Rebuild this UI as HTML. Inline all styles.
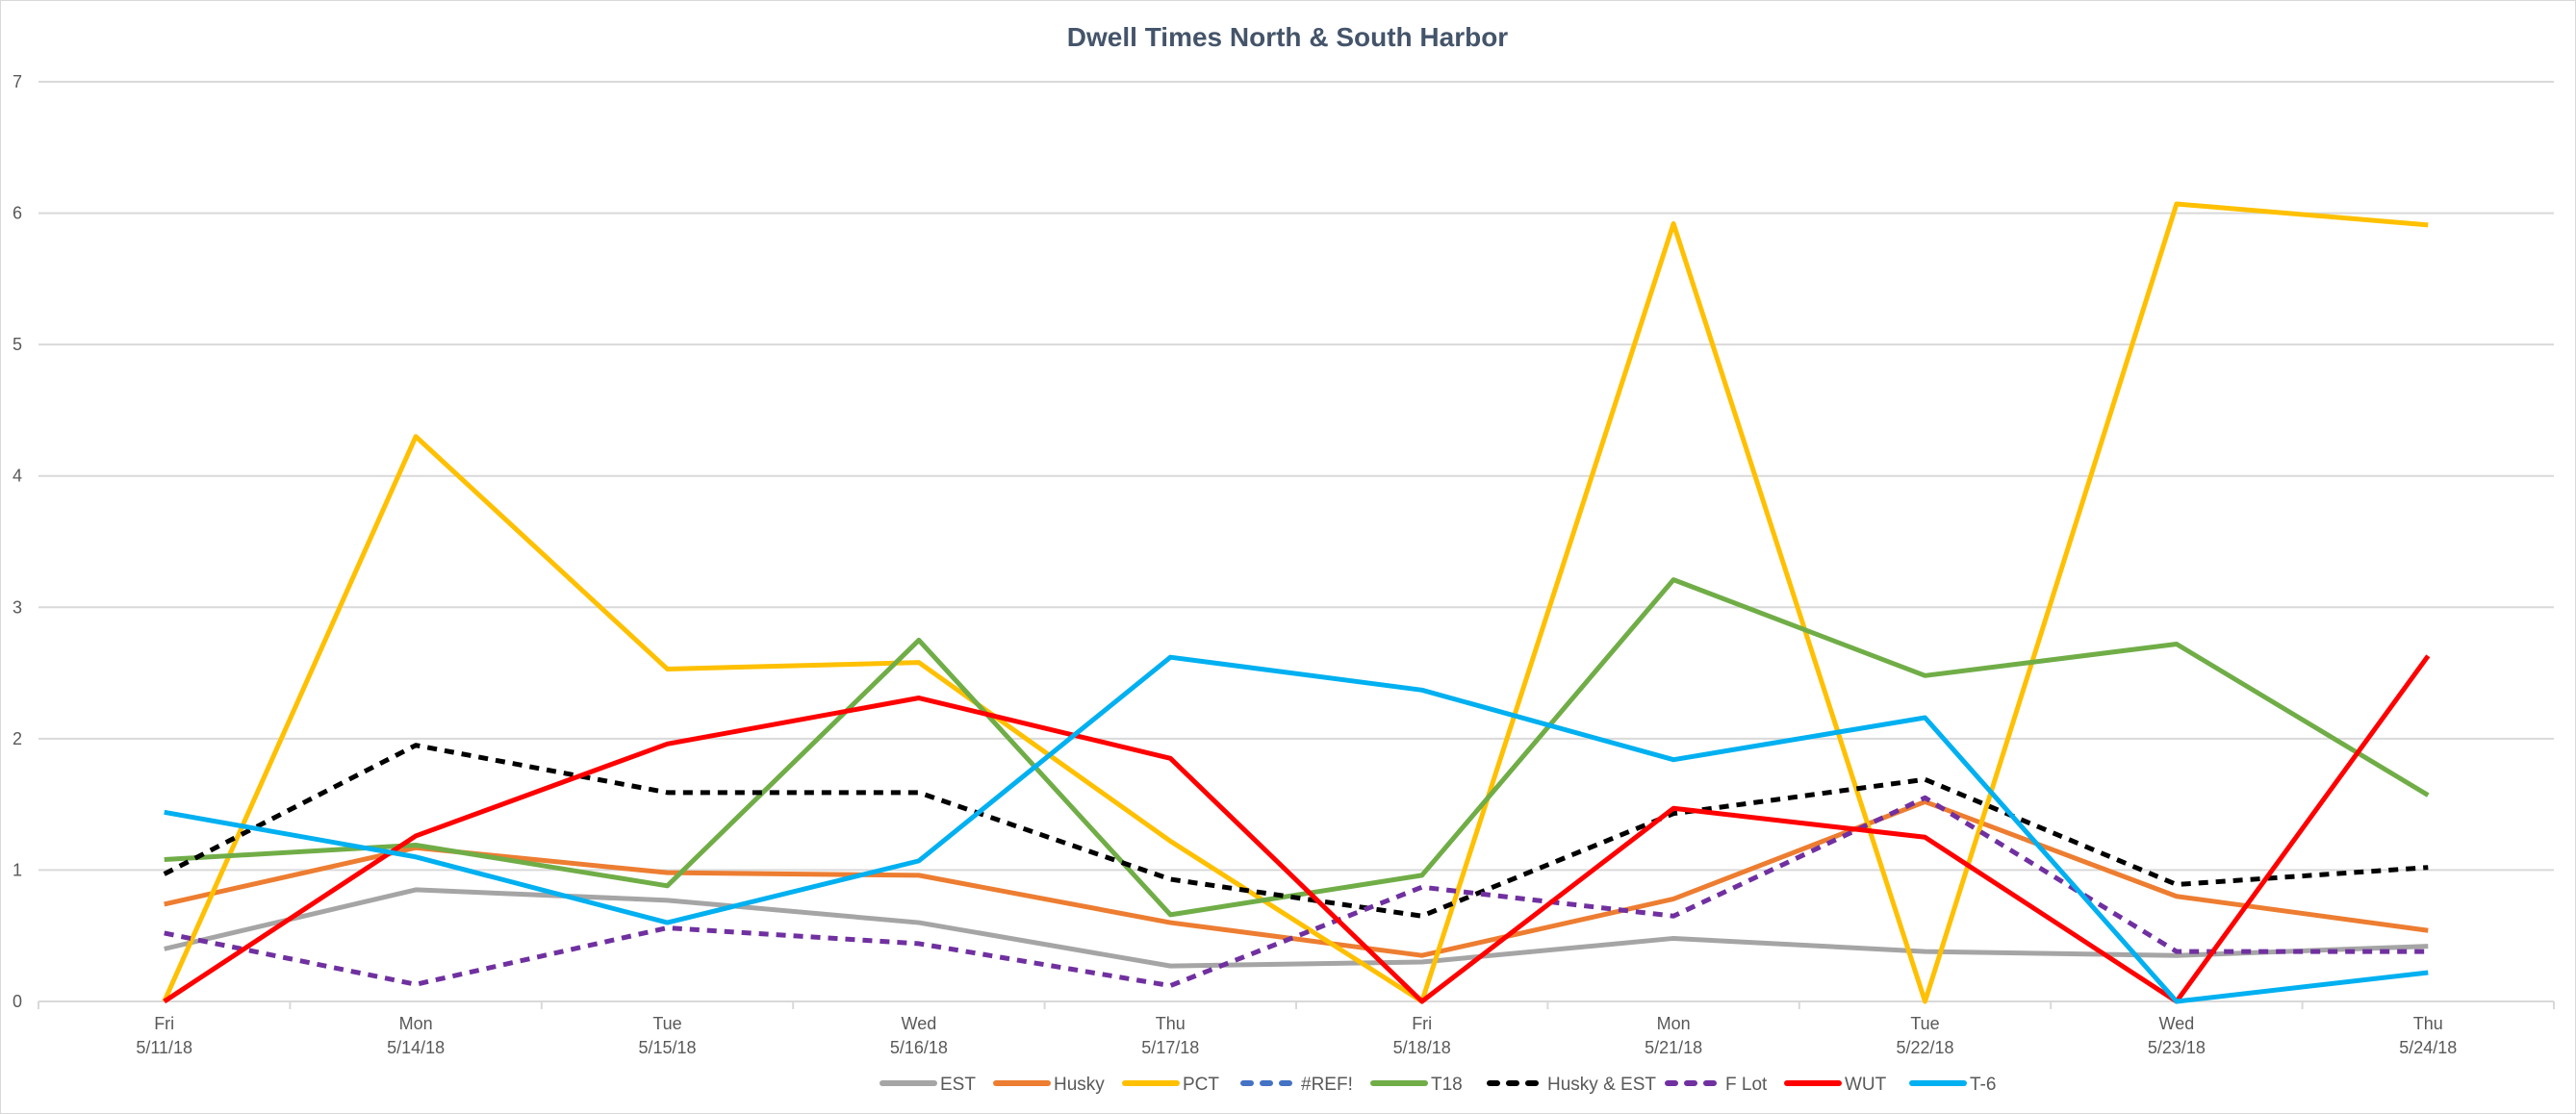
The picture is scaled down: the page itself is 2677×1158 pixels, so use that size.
<!DOCTYPE html>
<html><head><meta charset="utf-8"><style>
body{margin:0;background:#fff;}
svg{display:block;font-family:"Liberation Sans",sans-serif;}
</style></head><body>
<svg id="chart" width="2677" height="1158" xmlns="http://www.w3.org/2000/svg">
<rect x="0" y="0" width="2677" height="1158" fill="#fff" stroke="#d9d9d9" stroke-width="2"/>
<text x="1338" y="48" text-anchor="middle" font-size="28" font-weight="bold" fill="#44546a">Dwell Times North &amp; South Harbor</text>
<g id="grid"></g><g id="axes"></g><g id="series"></g><g id="legend"></g>
</svg>
<script>
const categories=[["Fri","5/11/18"],["Mon","5/14/18"],["Tue","5/15/18"],["Wed","5/16/18"],["Thu","5/17/18"],["Fri","5/18/18"],["Mon","5/21/18"],["Tue","5/22/18"],["Wed","5/23/18"],["Thu","5/24/18"]];
const yTicks=[0,1,2,3,4,5,6,7];
const seriesNames=["EST","Husky","PCT","#REF!","T18","Husky & EST","F Lot","WUT","T-6"];
const estValues=[0.4,0.85,0.77,0.6,0.27,0.3,0.48,0.38,0.35,0.42];
const huskyValues=[0.74,1.17,0.98,0.96,0.6,0.35,0.78,1.52,0.8,0.54];
const pctValues=[0,4.3,2.53,2.58,1.22,0,5.92,0,6.07,5.91];
const refValues=[];
const t18Values=[1.08,1.19,0.88,2.75,0.66,0.96,3.21,2.48,2.72,1.57];
const huskyEstValues=[0.97,1.95,1.59,1.59,0.93,0.65,1.43,1.69,0.89,1.02];
const fLotValues=[0.52,0.13,0.56,0.44,0.12,0.87,0.65,1.55,0.38,0.38];
const wutValues=[0,1.26,1.96,2.31,1.85,0,1.47,1.25,0,2.63];
const t6Values=[1.44,1.1,0.6,1.07,2.62,2.37,1.84,2.16,0,0.22];

const NS="http://www.w3.org/2000/svg";
const L=40,R=2654,Y0=1041,Y7=85;
const step=(R-L)/categories.length;
const xs=i=>L+step*(i+0.5);
const ys=v=>Y0-(v/7)*(Y0-Y7);
function mk(t,a,p){const e=document.createElementNS(NS,t);for(const k in a)e.setAttribute(k,a[k]);p.appendChild(e);return e;}
const grid=document.getElementById('grid'),axes=document.getElementById('axes');
yTicks.forEach(v=>{
 if(v>0){const g=mk('line',{x1:L,x2:R,y1:ys(v),y2:ys(v),stroke:'#d9d9d9','stroke-width':2},grid);
 
 }
 const t=mk('text',{x:18,y:ys(v)+6,'font-size':18,fill:'#595959','text-anchor':'middle'},axes);
 t.textContent=v;
 
 
});
const ax=mk('line',{x1:L,x2:R,y1:Y0,y2:Y0,stroke:'#d9d9d9','stroke-width':2},axes);


for(let i=0;i<=categories.length;i++){const tk=mk('line',{x1:L+step*i,x2:L+step*i,y1:Y0,y2:Y0+8,stroke:'#d9d9d9','stroke-width':2},axes);

}
categories.forEach((c,i)=>{
 const t=mk('text',{x:xs(i),'font-size':18,fill:'#595959','text-anchor':'middle'},axes);
 
 
 mk('tspan',{x:xs(i),y:1070},t).textContent=c[0];
 mk('tspan',{x:xs(i),y:1095},t).textContent=c[1];
});
const styles=[
 {c:'#a5a5a5',d:null,v:estValues},{c:'#ed7d31',d:null,v:huskyValues},{c:'#ffc000',d:null,v:pctValues},
 {c:'#4472c4',d:'10 8',v:refValues},{c:'#70ad47',d:null,v:t18Values},{c:'#000000',d:'10 8',v:huskyEstValues},
 {c:'#7030a0',d:'10 8',v:fLotValues},{c:'#ff0000',d:null,v:wutValues},{c:'#00b0f0',d:null,v:t6Values}];
const sg=document.getElementById('series');
styles.forEach((s,k)=>{
 if(!s.v.length)return;
 const p=mk('polyline',{points:s.v.map((v,i)=>xs(i)+','+ys(v)).join(' '),fill:'none',stroke:s.c,'stroke-width':5,'stroke-linejoin':'round'},sg);
 if(s.d)p.setAttribute('stroke-dasharray',s.d);
 
 
});
const lg=document.getElementById('legend');
const legendX=[917,1035,1169,1292,1427,1548,1733,1857,1987];
styles.forEach((s,k)=>{
 const x=legendX[k];
 const g=mk('g',{},lg);
 
 
 const ln=mk('line',{x1:x,x2:x+54,y1:1126,y2:1126,stroke:s.c,'stroke-width':6,'stroke-linecap':'round'},g);
 if(s.d)ln.setAttribute('stroke-dasharray','8 12');
 const t=mk('text',{x:x+60,y:1133,'font-size':19,fill:'#595959'},g);
 t.textContent=seriesNames[k];
});
</script>
</body></html>
